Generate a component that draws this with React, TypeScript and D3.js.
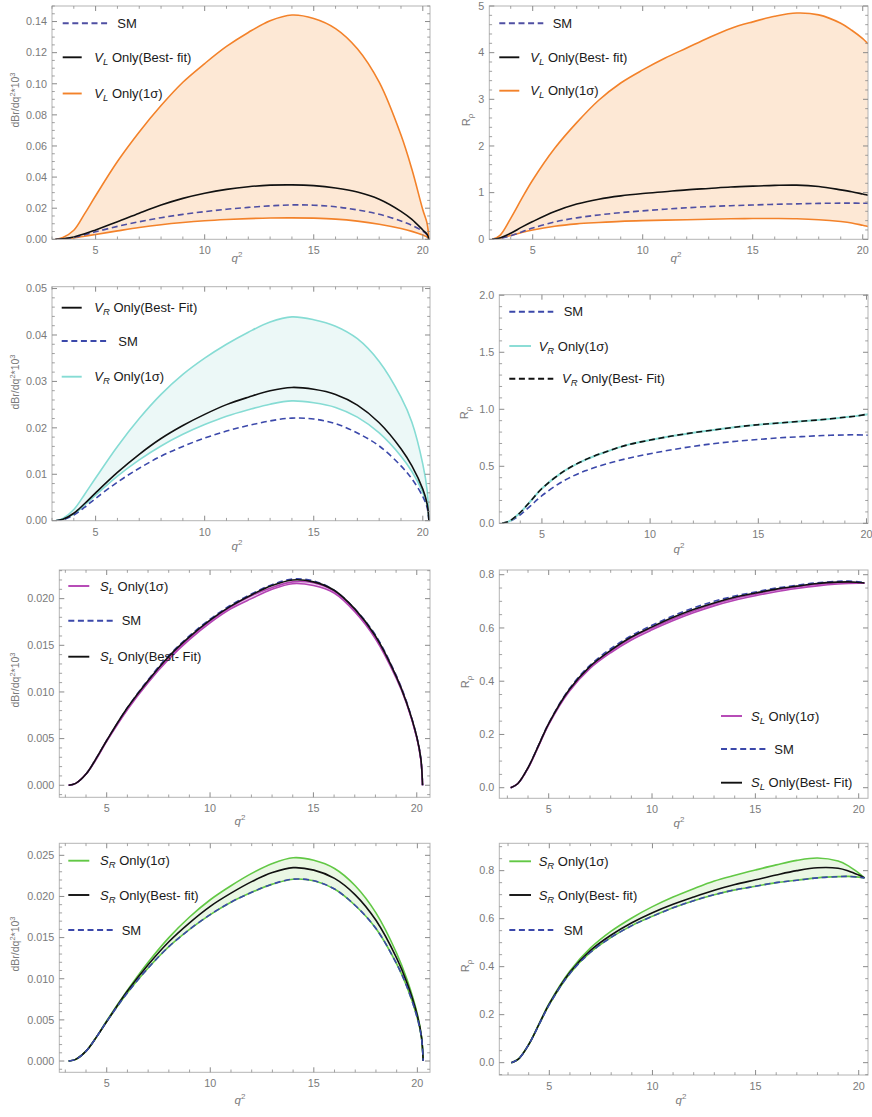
import React from 'react';
import * as d3 from 'd3';

// q^2 sample points (GeV^2)
const Q = [3.16, 3.5, 4, 4.5, 5, 6, 7, 8, 9, 10, 11, 12, 13, 14, 15, 16, 17, 18, 19, 19.5, 20, 20.2, 20.28];

// Standard Model
const smBr = [0, 0.0002, 0.0012, 0.0029, 0.0048, 0.0083, 0.0113, 0.0139, 0.016, 0.0178, 0.0193, 0.0205, 0.0215, 0.0221, 0.0219, 0.0209, 0.0189, 0.0161, 0.0118, 0.009, 0.0052, 0.0028, 0];
const smR = [0, 0.015, 0.075, 0.158, 0.242, 0.372, 0.46, 0.522, 0.571, 0.61, 0.645, 0.675, 0.7, 0.72, 0.735, 0.75, 0.76, 0.77, 0.775, 0.776, 0.773, 0.771, 0.77];

// V_L
const vlBrUpper = [0, 0.0012, 0.0058, 0.0165, 0.028, 0.05, 0.069, 0.086, 0.101, 0.113, 0.124, 0.133, 0.1405, 0.1442, 0.142, 0.1355, 0.1225, 0.101, 0.067, 0.045, 0.019, 0.01, 0];
const vlBrLower = [0, 0.0002, 0.0009, 0.002, 0.0031, 0.0054, 0.0076, 0.0094, 0.0108, 0.0119, 0.0127, 0.0133, 0.0137, 0.0138, 0.0136, 0.013, 0.0117, 0.0097, 0.0069, 0.0051, 0.0027, 0.0014, 0];
const vlBrBest = [0, 0.0003, 0.0015, 0.0035, 0.006, 0.0113, 0.0168, 0.022, 0.0263, 0.0296, 0.0321, 0.0338, 0.0348, 0.035, 0.0345, 0.033, 0.0304, 0.0258, 0.018, 0.0128, 0.006, 0.0032, 0];
const vlRUpper = [0, 0.08, 0.45, 0.87, 1.27, 1.95, 2.5, 2.98, 3.35, 3.63, 3.88, 4.1, 4.32, 4.52, 4.66, 4.78, 4.85, 4.81, 4.63, 4.48, 4.3, 4.21, 4.18];
const vlRLower = [0, 0.02, 0.08, 0.145, 0.2, 0.28, 0.33, 0.36, 0.385, 0.4, 0.41, 0.42, 0.43, 0.44, 0.445, 0.445, 0.44, 0.42, 0.38, 0.35, 0.3, 0.28, 0.27];
const vlRBest = [0, 0.03, 0.13, 0.26, 0.38, 0.595, 0.755, 0.86, 0.93, 0.98, 1.02, 1.06, 1.09, 1.12, 1.14, 1.155, 1.16, 1.13, 1.06, 1.02, 0.97, 0.95, 0.94];

// V_R
const vrBrUpper = [0, 0.0005, 0.0024, 0.0057, 0.0092, 0.016, 0.022, 0.0272, 0.0315, 0.035, 0.038, 0.0406, 0.0428, 0.0439, 0.0433, 0.0419, 0.0392, 0.0343, 0.0266, 0.0212, 0.0122, 0.0065, 0];
const vrBrLower = [0, 0.0003, 0.0014, 0.0034, 0.0055, 0.0096, 0.0131, 0.0161, 0.0186, 0.0207, 0.0225, 0.0239, 0.0251, 0.0258, 0.0254, 0.0244, 0.0223, 0.0189, 0.0139, 0.0106, 0.0061, 0.0033, 0];
const vrBrBest = [0, 0.0003, 0.0016, 0.0037, 0.006, 0.0104, 0.0143, 0.0177, 0.0205, 0.0229, 0.025, 0.0266, 0.028, 0.0287, 0.0283, 0.0272, 0.0249, 0.0211, 0.0155, 0.0118, 0.0068, 0.0036, 0];
const vrRSigma = [0, 0.02, 0.095, 0.2, 0.305, 0.455, 0.557, 0.63, 0.69, 0.73, 0.765, 0.795, 0.82, 0.845, 0.865, 0.88, 0.895, 0.91, 0.93, 0.94, 0.955, 0.958, 0.96];
const vrRBest = [0, 0.02, 0.095, 0.2, 0.305, 0.455, 0.557, 0.63, 0.69, 0.73, 0.765, 0.795, 0.82, 0.845, 0.865, 0.88, 0.895, 0.91, 0.93, 0.94, 0.955, 0.958, 0.96];

// S_L
const slBrUpper = [0, 0.0002, 0.0012, 0.0029, 0.0048, 0.0082, 0.0112, 0.0137, 0.0158, 0.0176, 0.0191, 0.0203, 0.0212, 0.0218, 0.0217, 0.0208, 0.0188, 0.0159, 0.0117, 0.0089, 0.0051, 0.0027, 0];
const slBrLower = [0, 0.0002, 0.0012, 0.0028, 0.0047, 0.0081, 0.011, 0.0135, 0.0156, 0.0174, 0.0189, 0.02, 0.021, 0.0216, 0.0214, 0.0206, 0.0186, 0.0157, 0.0115, 0.0088, 0.0051, 0.0027, 0];
const slBrBest = [0, 0.0002, 0.0012, 0.0029, 0.0048, 0.0083, 0.0112, 0.0138, 0.0159, 0.0177, 0.0192, 0.0204, 0.0214, 0.022, 0.0218, 0.0209, 0.0189, 0.016, 0.0117, 0.0089, 0.0052, 0.0028, 0];
const slRUpper = [0, 0.015, 0.074, 0.156, 0.24, 0.367, 0.453, 0.513, 0.562, 0.6, 0.634, 0.664, 0.69, 0.711, 0.727, 0.743, 0.754, 0.764, 0.77, 0.771, 0.77, 0.769, 0.768];
const slRLower = [0, 0.015, 0.073, 0.154, 0.237, 0.362, 0.448, 0.507, 0.555, 0.593, 0.627, 0.657, 0.683, 0.704, 0.721, 0.736, 0.748, 0.758, 0.765, 0.767, 0.768, 0.768, 0.768];
const slRBest = [0, 0.015, 0.075, 0.157, 0.241, 0.369, 0.456, 0.516, 0.566, 0.604, 0.639, 0.669, 0.694, 0.715, 0.731, 0.746, 0.757, 0.767, 0.772, 0.773, 0.771, 0.77, 0.769];

// S_R
const srBrUpper = [0, 0.0002, 0.0012, 0.0029, 0.0049, 0.0086, 0.012, 0.015, 0.0175, 0.0196, 0.0213, 0.0228, 0.024, 0.0247, 0.0244, 0.0234, 0.0213, 0.018, 0.0131, 0.0099, 0.0057, 0.003, 0];
const srBrLower = [0, 0.0002, 0.0012, 0.0029, 0.0048, 0.0083, 0.0113, 0.0139, 0.016, 0.0178, 0.0193, 0.0205, 0.0215, 0.0221, 0.0219, 0.0209, 0.0189, 0.0161, 0.0118, 0.009, 0.0052, 0.0028, 0];
const srBrBest = [0, 0.0002, 0.0012, 0.0029, 0.0048, 0.0085, 0.0117, 0.0145, 0.0168, 0.0188, 0.0204, 0.0218, 0.0229, 0.0235, 0.0232, 0.0222, 0.0202, 0.0171, 0.0125, 0.0095, 0.0055, 0.0029, 0];
const srRUpper = [0, 0.015, 0.076, 0.162, 0.248, 0.382, 0.478, 0.548, 0.603, 0.65, 0.69, 0.725, 0.757, 0.781, 0.803, 0.824, 0.843, 0.853, 0.84, 0.82, 0.79, 0.776, 0.77];
const srRLower = [0, 0.015, 0.075, 0.158, 0.242, 0.372, 0.46, 0.522, 0.571, 0.61, 0.645, 0.675, 0.7, 0.72, 0.735, 0.75, 0.76, 0.77, 0.775, 0.776, 0.773, 0.771, 0.77];
const srRBest = [0, 0.015, 0.075, 0.16, 0.245, 0.377, 0.468, 0.532, 0.583, 0.625, 0.66, 0.69, 0.718, 0.742, 0.762, 0.782, 0.8, 0.812, 0.81, 0.799, 0.782, 0.774, 0.77];

// tick values
const xTicks = [5, 10, 15, 20];
const yTicksP1 = [0, 0.02, 0.04, 0.06, 0.08, 0.1, 0.12, 0.14];
const yTicksP2 = [0, 1, 2, 3, 4, 5];
const yTicksP3 = [0, 0.01, 0.02, 0.03, 0.04, 0.05];
const yTicksP4 = [0, 0.5, 1, 1.5, 2];
const yTicksP5 = [0, 0.005, 0.01, 0.015, 0.02];
const yTicksP6 = [0, 0.2, 0.4, 0.6, 0.8];
const yTicksP7 = [0, 0.005, 0.01, 0.015, 0.02, 0.025];
const yTicksP8 = [0, 0.2, 0.4, 0.6, 0.8];

const ORANGE = '#f3822a';
const ORANGE_FILL = '#fde8d5';
const CYAN = '#86dcd4';
const CYAN_FILL = '#ecf8f7';
const MAGENTA = '#b443b4';
const MAGENTA_FILL = '#f1dcf1';
const GREEN = '#62c845';
const GREEN_FILL = '#eaf7e4';
const BLUE = '#3b48aa';
const BLUE1 = '#4f4fa3';
const BLACK = '#111';
const FONT = "'Liberation Sans', Arial, Helvetica, sans-serif";
const GRAY = '#7a7a7a';

type Line = { v: number[]; color: string; dash?: boolean; w?: number };
type Leg = { y: number; x1: number; x2: number; tx: number; color: string; dash?: boolean; sym?: string; sub?: string; text: string };
type Cfg = {
  box: { l: number; r: number; t: number; b: number };
  xDom: [number, number];
  yDom: [number, number];
  yTicks: number[];
  yFmt: string;
  yMinor: number;
  band?: { lower: number[]; upper: number[]; fill: string };
  lines: Line[];
  legend: Leg[];
  yLabel: 'br' | 'r';
  yLab: [number, number];
  xLab: [number, number];
};

const panels: Cfg[] = [
  {
    box: { l: 52, r: 430, t: 6, b: 239.3 }, xDom: [3.0, 20.33], yDom: [0, 0.15],
    yTicks: yTicksP1, yFmt: '.2f', yMinor: 0.005,
    band: { lower: vlBrLower, upper: vlBrUpper, fill: ORANGE_FILL },
    lines: [
      { v: vlBrUpper, color: ORANGE }, { v: vlBrLower, color: ORANGE },
      { v: smBr, color: BLUE1, dash: true }, { v: vlBrBest, color: BLACK },
    ],
    legend: [
      { y: 23.3, x1: 62.7, x2: 109.3, tx: 117.3, color: BLUE1, dash: true, text: 'SM' },
      { y: 57.3, x1: 62.7, x2: 81.7, tx: 94.3, color: BLACK, sym: 'V', sub: 'L', text: ' Only(Best- fit)' },
      { y: 93.5, x1: 62.7, x2: 81.7, tx: 94.3, color: ORANGE, sym: 'V', sub: 'L', text: ' Only(1σ)' },
    ],
    yLabel: 'br', yLab: [15, 100], xLab: [237, 262],
  },
  {
    box: { l: 489.3, r: 868, t: 6, b: 239.3 }, xDom: [3.027, 20.24], yDom: [0, 5],
    yTicks: yTicksP2, yFmt: 'd', yMinor: 0.2,
    band: { lower: vlRLower, upper: vlRUpper, fill: ORANGE_FILL },
    lines: [
      { v: vlRUpper, color: ORANGE }, { v: vlRLower, color: ORANGE },
      { v: smR, color: BLUE1, dash: true }, { v: vlRBest, color: BLACK },
    ],
    legend: [
      { y: 23.3, x1: 499.3, x2: 543.3, tx: 552.7, color: BLUE1, dash: true, text: 'SM' },
      { y: 57.3, x1: 499.3, x2: 519.3, tx: 530.3, color: BLACK, sym: 'V', sub: 'L', text: ' Only(Best- fit)' },
      { y: 90.7, x1: 499.3, x2: 519.3, tx: 530.3, color: ORANGE, sym: 'V', sub: 'L', text: ' Only(1σ)' },
    ],
    yLabel: 'r', yLab: [466, 120], xLab: [676, 262],
  },
  {
    box: { l: 52, r: 430, t: 286.7, b: 520.7 }, xDom: [3.0, 20.33], yDom: [0, 0.0504],
    yTicks: yTicksP3, yFmt: '.2f', yMinor: 0.002,
    band: { lower: vrBrLower, upper: vrBrUpper, fill: CYAN_FILL },
    lines: [
      { v: vrBrUpper, color: CYAN }, { v: vrBrLower, color: CYAN },
      { v: smBr, color: BLUE, dash: true }, { v: vrBrBest, color: BLACK },
    ],
    legend: [
      { y: 307.7, x1: 61.7, x2: 81.7, tx: 94.3, color: BLACK, sym: 'V', sub: 'R', text: ' Only(Best- Fit)' },
      { y: 341, x1: 61.7, x2: 108.3, tx: 118.3, color: BLUE, dash: true, text: 'SM' },
      { y: 376.7, x1: 61.7, x2: 81.7, tx: 94.3, color: CYAN, sym: 'V', sub: 'R', text: ' Only(1σ)' },
    ],
    yLabel: 'br', yLab: [15, 382], xLab: [237, 550],
  },
  {
    box: { l: 499.3, r: 868, t: 294.7, b: 523.3 }, xDom: [3.03, 20.07], yDom: [0, 2.005],
    yTicks: yTicksP4, yFmt: '.1f', yMinor: 0.1,
    lines: [
      { v: smR, color: BLUE, dash: true }, { v: vrRSigma, color: CYAN, w: 2 },
      { v: vrRBest, color: BLACK, dash: true },
    ],
    legend: [
      { y: 311.7, x1: 509.3, x2: 553.3, tx: 563.7, color: BLUE, dash: true, text: 'SM' },
      { y: 346, x1: 509.3, x2: 531, tx: 538.7, color: CYAN, sym: 'V', sub: 'R', text: ' Only(1σ)' },
      { y: 378.7, x1: 509.3, x2: 553.3, tx: 562, color: BLACK, dash: true, sym: 'V', sub: 'R', text: ' Only(Best- Fit)' },
    ],
    yLabel: 'r', yLab: [464, 413], xLab: [679, 553],
  },
  {
    box: { l: 59.3, r: 430, t: 570, b: 797.3 }, xDom: [2.707, 20.64], yDom: [-0.00129, 0.02307],
    yTicks: yTicksP5, yFmt: '.3f', yMinor: 0.001,
    band: { lower: slBrLower, upper: slBrUpper, fill: MAGENTA_FILL },
    lines: [
      { v: smBr, color: BLUE, dash: true },
      { v: slBrUpper, color: MAGENTA }, { v: slBrLower, color: MAGENTA },
      { v: slBrBest, color: BLACK },
    ],
    legend: [
      { y: 586, x1: 68.3, x2: 89.3, tx: 100, color: MAGENTA, sym: 'S', sub: 'L', text: ' Only(1σ)' },
      { y: 620.7, x1: 68.3, x2: 113.3, tx: 121.7, color: BLUE, dash: true, text: 'SM' },
      { y: 656.7, x1: 68.3, x2: 89.3, tx: 100, color: BLACK, sym: 'S', sub: 'L', text: ' Only(Best- Fit)' },
    ],
    yLabel: 'br', yLab: [15, 680], xLab: [240, 825],
  },
  {
    box: { l: 499.3, r: 868, t: 570, b: 798.3 }, xDom: [2.61, 20.45], yDom: [-0.0398, 0.8177],
    yTicks: yTicksP6, yFmt: '.1f', yMinor: 0.05,
    band: { lower: slRLower, upper: slRUpper, fill: MAGENTA_FILL },
    lines: [
      { v: smR, color: BLUE, dash: true },
      { v: slRUpper, color: MAGENTA }, { v: slRLower, color: MAGENTA },
      { v: slRBest, color: BLACK },
    ],
    legend: [
      { y: 716, x1: 721, x2: 742, tx: 751, color: MAGENTA, sym: 'S', sub: 'L', text: ' Only(1σ)' },
      { y: 749, x1: 721, x2: 766, tx: 774.3, color: BLUE, dash: true, text: 'SM' },
      { y: 782.7, x1: 721, x2: 742, tx: 751, color: BLACK, sym: 'S', sub: 'L', text: ' Only(Best- Fit)' },
    ],
    yLabel: 'r', yLab: [465, 682], xLab: [679, 827],
  },
  {
    box: { l: 59.3, r: 430, t: 843.3, b: 1072.3 }, xDom: [2.71, 20.61], yDom: [-0.00137, 0.02646],
    yTicks: yTicksP7, yFmt: '.3f', yMinor: 0.001,
    band: { lower: srBrLower, upper: srBrUpper, fill: GREEN_FILL },
    lines: [
      { v: srBrUpper, color: GREEN }, { v: srBrLower, color: GREEN },
      { v: srBrBest, color: BLACK }, { v: smBr, color: BLUE, dash: true },
    ],
    legend: [
      { y: 860.7, x1: 68.3, x2: 89.3, tx: 100, color: GREEN, sym: 'S', sub: 'R', text: ' Only(1σ)' },
      { y: 895, x1: 68.3, x2: 89.3, tx: 100, color: BLACK, sym: 'S', sub: 'R', text: ' Only(Best- fit)' },
      { y: 930, x1: 68.3, x2: 113.3, tx: 121.7, color: BLUE, dash: true, text: 'SM' },
    ],
    yLabel: 'br', yLab: [15, 944], xLab: [240, 1104],
  },
  {
    box: { l: 499.3, r: 868, t: 843.3, b: 1075 }, xDom: [2.576, 20.45], yDom: [-0.0514, 0.914],
    yTicks: yTicksP8, yFmt: '.1f', yMinor: 0.05,
    band: { lower: srRLower, upper: srRUpper, fill: GREEN_FILL },
    lines: [
      { v: srRUpper, color: GREEN }, { v: srRLower, color: GREEN },
      { v: srRBest, color: BLACK }, { v: smR, color: BLUE, dash: true },
    ],
    legend: [
      { y: 861.3, x1: 509.3, x2: 531, tx: 538.7, color: GREEN, sym: 'S', sub: 'R', text: ' Only(1σ)' },
      { y: 895, x1: 509.3, x2: 531, tx: 538.7, color: BLACK, sym: 'S', sub: 'R', text: ' Only(Best- fit)' },
      { y: 930, x1: 509.3, x2: 553.3, tx: 563.7, color: BLUE, dash: true, text: 'SM' },
    ],
    yLabel: 'r', yLab: [465, 966], xLab: [681, 1104],
  },
];

const CURVE = d3.curveCatmullRom.alpha(0.5);

function Panel({ cfg, idx }: { cfg: Cfg; idx: number }) {
  const { l, r, t, b } = cfg.box;
  const x = d3.scaleLinear().domain(cfg.xDom).range([l, r]);
  const y = d3.scaleLinear().domain(cfg.yDom).range([b, t]);
  const line = d3.line<number>().x((_, i) => x(Q[i])).y((v) => y(v)).curve(CURVE);
  const fmt = d3.format(cfg.yFmt);
  const clipId = `clip${idx}`;

  const yMinors = d3.range(Math.ceil(cfg.yDom[0] / cfg.yMinor - 1e-6), Math.floor(cfg.yDom[1] / cfg.yMinor + 1e-6) + 1)
    .map((k) => k * cfg.yMinor)
    .filter((v) => !cfg.yTicks.some((m) => Math.abs(m - v) < cfg.yMinor / 10));
  const xMinors = d3.range(Math.ceil(cfg.xDom[0]), Math.floor(cfg.xDom[1]) + 1).filter((v) => v % 5 !== 0);

  const tickColor = '#8a8a8a';
  const MJ = 5, MN = 2.8;

  let bandPath: string | null = null;
  if (cfg.band) {
    const band = cfg.band;
    const area = d3.area<number>()
      .x((_, i) => x(Q[i]))
      .y0((_, i) => y(band.lower[i]))
      .y1((v) => y(v))
      .curve(CURVE);
    bandPath = area(band.upper);
  }

  return (
    <g>
      <defs>
        <clipPath id={clipId}>
          <rect x={l} y={t} width={r - l} height={b - t} />
        </clipPath>
      </defs>
      <g clipPath={`url(#${clipId})`}>
        {bandPath && <path d={bandPath} fill={cfg.band!.fill} stroke="none" />}
        {cfg.lines.map((ln, i) => (
          <path key={i} d={line(ln.v) || ''} fill="none" stroke={ln.color}
            strokeWidth={ln.w ?? 1.6} strokeDasharray={ln.dash ? '6,3.6' : undefined} />
        ))}
      </g>
      <rect x={l} y={t} width={r - l} height={b - t} fill="none" stroke="#b4b4b4" strokeWidth={1} />
      {cfg.yTicks.map((v) => (
        <g key={'y' + v}>
          <line x1={l} x2={l + MJ} y1={y(v)} y2={y(v)} stroke={tickColor} />
          <line x1={r} x2={r - MJ} y1={y(v)} y2={y(v)} stroke={tickColor} />
          <text x={l - 5} y={y(v)} dy="0.35em" textAnchor="end" fontSize={10.8} fill={GRAY} fontFamily={FONT}>{fmt(v)}</text>
        </g>
      ))}
      {yMinors.map((v) => (
        <g key={'ym' + v}>
          <line x1={l} x2={l + MN} y1={y(v)} y2={y(v)} stroke={tickColor} strokeWidth={0.8} />
          <line x1={r} x2={r - MN} y1={y(v)} y2={y(v)} stroke={tickColor} strokeWidth={0.8} />
        </g>
      ))}
      {xTicks.map((v) => (
        <g key={'x' + v}>
          <line x1={x(v)} x2={x(v)} y1={b} y2={b - MJ} stroke={tickColor} />
          <line x1={x(v)} x2={x(v)} y1={t} y2={t + MJ} stroke={tickColor} />
          <text x={x(v)} y={b + 15} textAnchor="middle" fontSize={10.8} fill={GRAY} fontFamily={FONT}>{v}</text>
        </g>
      ))}
      {xMinors.map((v) => (
        <g key={'xm' + v}>
          <line x1={x(v)} x2={x(v)} y1={b} y2={b - MN} stroke={tickColor} strokeWidth={0.8} />
          <line x1={x(v)} x2={x(v)} y1={t} y2={t + MN} stroke={tickColor} strokeWidth={0.8} />
        </g>
      ))}
      <text x={cfg.xLab[0]} y={cfg.xLab[1]} textAnchor="middle" fontSize={11.5} fill={GRAY} fontFamily={FONT}>
        <tspan fontStyle="italic">q</tspan>
        <tspan fontSize={8} dy={-5}>2</tspan>
      </text>
      <g transform={`translate(${cfg.yLab[0]},${cfg.yLab[1]}) rotate(-90)`}>
        {cfg.yLabel === 'br' ? (
          <text x={0} y={0} dy="0.35em" textAnchor="middle" fontSize={10.5} fill={GRAY} fontFamily={FONT}>
            dBr/dq<tspan fontSize={7.5} dy={-4}>2</tspan><tspan dy={4}>*10</tspan><tspan fontSize={7.5} dy={-4}>3</tspan>
          </text>
        ) : (
          <text x={0} y={0} dy="0.35em" textAnchor="middle" fontSize={11} fill={GRAY} fontFamily={FONT}>
            R<tspan fontSize={8} dy={3}>ρ</tspan>
          </text>
        )}
      </g>
      {cfg.legend.map((lg, i) => (
        <g key={'lg' + i}>
          <line x1={lg.x1} x2={lg.x2} y1={lg.y} y2={lg.y} stroke={lg.color} strokeWidth={1.9}
            strokeDasharray={lg.dash ? '6,3.6' : undefined} />
          <text x={lg.tx} y={lg.y} dy="0.35em" fontSize={13} fill="#1a1a1a" fontFamily={FONT}>
            {lg.sym ? (
              <>
                <tspan fontStyle="italic">{lg.sym}</tspan>
                <tspan fontStyle="italic" fontSize={9.5} dy={3}>{lg.sub}</tspan>
                <tspan dy={-3}>{lg.text}</tspan>
              </>
            ) : lg.text}
          </text>
        </g>
      ))}
    </g>
  );
}

export default function App() {
  return (
    <svg width={872} height={1117} style={{ position: 'absolute', left: 0, top: 0, background: '#fff' }}>
      <rect x={0} y={0} width={872} height={1117} fill="#fff" />
      {panels.map((p, i) => <Panel key={i} cfg={p} idx={i} />)}
    </svg>
  );
}
